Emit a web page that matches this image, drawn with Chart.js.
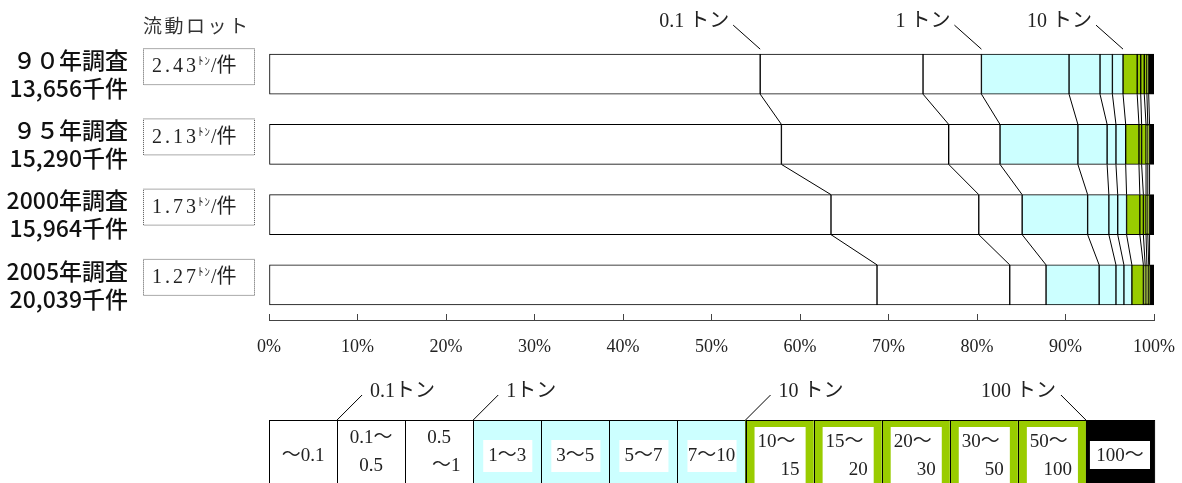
<!DOCTYPE html>
<html>
<head>
<meta charset="utf-8">
<script src="https://cdn.jsdelivr.net/npm/chart.js@4/dist/chart.umd.min.js"></script>
<style>
  body { margin: 0; background: #fff; }
</style>
</head>
<body>
<canvas id="lotChart" width="1182" height="483"></canvas>
<script>
// survey rows (top to bottom)
const surveys = [
  ['９０年調査', '13,656千件'],
  ['９５年調査', '15,290千件'],
  ['2000年調査', '15,964千件'],
  ['2005年調査', '20,039千件']
];
const lotSizes = ['2.43', '2.13', '1.73', '1.27'];

// weight classes (tons)
const sizeClasses = ['～0.1', '0.1～0.5', '0.5～1', '1～3', '3～5', '5～7', '7～10',
  '10～15', '15～20', '20～30', '30～50', '50～100', '100～'];

// share of shipments by weight class (%)
const share1990 = [55.5, 18.4, 6.6, 9.9, 3.5, 1.4, 1.2, 1.6, 0.4, 0.4, 0.3, 0.2, 0.6];
const share1995 = [57.9, 18.9, 5.8, 8.8, 3.3, 1.0, 1.1, 1.5, 0.3, 0.5, 0.2, 0.2, 0.5];
const share2000 = [63.5, 16.7, 4.9, 7.4, 2.4, 1.0, 1.0, 1.5, 0.4, 0.3, 0.2, 0.2, 0.5];
const share2005 = [68.7, 15.0, 4.1, 6.0, 1.9, 0.9, 0.9, 1.3, 0.2, 0.2, 0.2, 0.1, 0.5];
const shares = [share1990, share1995, share2000, share2005];

// legend box text
const legendText = [['～0.1'], ['0.1～', '0.5'], ['0.5', '～1'], ['1～3'], ['3～5'], ['5～7'], ['7～10'],
  ['10～', '15'], ['15～', '20'], ['20～', '30'], ['30～', '50'], ['50～', '100'], ['100～']];

const WHITE = '#ffffff', CYAN = '#ccffff', GREEN = '#99cc00', BLACK = '#000000';
const classColors = [WHITE, WHITE, WHITE, CYAN, CYAN, CYAN, CYAN, GREEN, GREEN, GREEN, GREEN, GREEN, BLACK];

const SERIF = "'Liberation Serif', 'Noto Sans CJK JP', serif";
const SANS = "'Noto Sans CJK JP', sans-serif";

const datasets = sizeClasses.map((name, k) => ({
  label: name,
  data: shares.map(row => row[k]),
  backgroundColor: classColors[k],
  borderColor: '#000',
  borderWidth: 1,
  borderSkipped: false,
  barThickness: 40
}));

const overlay = {
  id: 'overlay',
  afterDatasetsDraw(chart) {
    const ctx = chart.ctx;
    const area = chart.chartArea;
    const metas = sizeClasses.map((_, k) => chart.getDatasetMeta(k));
    ctx.save();

    // connector lines between bars
    ctx.strokeStyle = '#000';
    ctx.lineWidth = 1;
    for (let k = 0; k < sizeClasses.length - 1; k++) {
      for (let i = 0; i < surveys.length - 1; i++) {
        const a = metas[k].data[i], b = metas[k].data[i + 1];
        ctx.beginPath();
        ctx.moveTo(a.x, a.y + a.height / 2);
        ctx.lineTo(b.x, b.y - b.height / 2);
        ctx.stroke();
      }
    }

    // top callouts
    ctx.font = '20px ' + SERIF;
    ctx.fillStyle = '#222';
    ctx.textBaseline = 'middle';
    ctx.textAlign = 'right';
    [[0, '0.1 トン'], [2, '1 トン'], [6, '10 トン']].forEach(([k, txt]) => {
      const el = metas[k].data[0];
      const ex = el.x, ey = el.y - el.height / 2 - 5;
      ctx.beginPath();
      ctx.moveTo(ex - 27, ey - 24);
      ctx.lineTo(ex, ey);
      ctx.stroke();
      ctx.fillText(txt, ex - 31, ey - 27);
    });

    // flow lot header and boxes
    ctx.textAlign = 'left';
    ctx.fillStyle = '#333';
    ctx.font = '19px ' + SERIF;
    ctx.letterSpacing = '2.5px';
    ctx.fillText('流動ロット', 143, 28);
    metas[0].data.forEach((el, i) => {
      const cy = el.y - 8;
      ctx.save();
      ctx.setLineDash([1, 1]);
      ctx.strokeStyle = '#555';
      ctx.strokeRect(143.5, cy - 17.5, 111, 36);
      ctx.restore();
      let x = 152;
      ctx.fillStyle = '#222';
      ctx.font = '20px ' + SERIF;
      ctx.letterSpacing = '3px';
      ctx.fillText(lotSizes[i], x, cy + 1);
      x += ctx.measureText(lotSizes[i]).width - 1;
      ctx.letterSpacing = '1px';
      ctx.font = '11px ' + SANS;
      ctx.fillText('ﾄﾝ', x, cy - 5);
      x += ctx.measureText('ﾄﾝ').width;
      ctx.letterSpacing = '0px';
      ctx.font = '20px ' + SERIF;
      ctx.fillText('/件', x, cy + 1);
    });

    // legend row
    const w = (area.right - area.left) / sizeClasses.length;
    const top = 420;
    ctx.font = '19px ' + SERIF;
    legendText.forEach((lines, i) => {
      const x0 = area.left + i * w;
      const col = classColors[i];
      ctx.fillStyle = col;
      ctx.fillRect(x0, top, w, 70);
      ctx.fillStyle = WHITE;
      if (col === CYAN) ctx.fillRect(x0 + 10, 440, w - 19, 32);
      if (col === GREEN) ctx.fillRect(x0 + 9, 427, w - 17, 70);
      if (col === BLACK) ctx.fillRect(x0 + 4, 441, w - 8, 28);
      ctx.strokeStyle = '#000';
      ctx.strokeRect(Math.round(x0) + 0.5, top + 0.5, w, 70);
      ctx.fillStyle = '#222';
      if (col === GREEN) {
        ctx.textAlign = 'left';
        ctx.fillText(lines[0], x0 + 12, 442);
        ctx.textAlign = 'right';
        ctx.fillText(lines[1], x0 + w - 14, 470);
      } else if (lines.length === 2) {
        ctx.textAlign = 'center';
        ctx.fillText(lines[0], x0 + w / 2, 438);
        ctx.fillText(lines[1], x0 + w / 2 + (i === 2 ? 7 : 0), 466);
      } else {
        ctx.textAlign = 'center';
        ctx.fillText(lines[0], x0 + w / 2, 456);
      }
    });

    // legend callouts
    ctx.font = '20px ' + SERIF;
    ctx.strokeStyle = '#000';
    [[1, '0.1トン', 1], [3, '1トン', 1], [7, '10 トン', 1], [12, '100 トン', -1]].forEach(([i, txt, dir]) => {
      const bx = area.left + i * w;
      ctx.beginPath();
      if (dir > 0) {
        ctx.moveTo(bx, top);
        ctx.lineTo(bx + 25, top - 25);
        ctx.stroke();
        ctx.textAlign = 'left';
        ctx.fillText(txt, bx + 33, top - 28);
      } else {
        ctx.moveTo(bx, top);
        ctx.lineTo(bx - 25, top - 25);
        ctx.stroke();
        ctx.textAlign = 'right';
        ctx.fillText(txt, bx - 30, top - 28);
      }
    });

    ctx.restore();
  }
};

new Chart(document.getElementById('lotChart'), {
  type: 'bar',
  data: { labels: surveys, datasets: datasets },
  options: {
    indexAxis: 'y',
    responsive: false,
    animation: false,
    layout: { padding: { left: 0, right: 28, top: 39, bottom: 123 } },
    plugins: { legend: { display: false }, tooltip: { enabled: false } },
    scales: {
      x: {
        stacked: true,
        min: 0,
        max: 100,
        ticks: {
          stepSize: 10,
          padding: 22,
          color: '#222',
          font: { family: SERIF, size: 18 },
          callback: v => v + '%'
        },
        grid: { drawOnChartArea: false, drawTicks: true, tickLength: -6, color: '#444' },
        border: { display: true, color: '#444' },
        afterFit: scale => {
          scale.height = 40;
          scale.paddingLeft = 0;
          scale.paddingRight = 0;
        }
      },
      y: {
        stacked: true,
        ticks: {
          padding: 141,
          color: '#111',
          font: { family: SANS, size: 23, weight: '500', lineHeight: 1.22 }
        },
        grid: { display: false, drawTicks: false },
        border: { display: false },
        afterFit: scale => {
          scale.width = 269;
          scale.paddingTop = 0;
          scale.paddingBottom = 0;
        }
      }
    }
  },
  plugins: [overlay]
});
</script>
</body>
</html>
